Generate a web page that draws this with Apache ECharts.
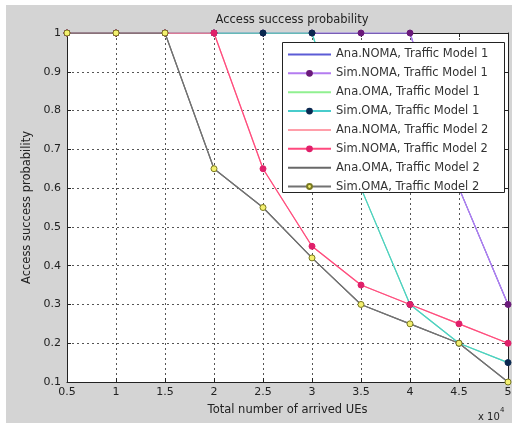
<!DOCTYPE html>
<html><head><meta charset="utf-8">
<script src="https://cdn.jsdelivr.net/npm/echarts@6/dist/echarts.min.js"></script>
<style>html,body{margin:0;padding:0;background:#fff}#c{width:519px;height:425px}</style>
</head><body><div id="c"></div>
<script>
const xValues = [0.5, 1, 1.5, 2, 2.5, 3, 3.5, 4, 4.5, 5];
const seriesNames = ['Ana.NOMA, Traffic Model 1','Sim.NOMA, Traffic Model 1','Ana.OMA, Traffic Model 1','Sim.OMA, Traffic Model 1','Ana.NOMA, Traffic Model 2','Sim.NOMA, Traffic Model 2','Ana.OMA, Traffic Model 2','Sim.OMA, Traffic Model 2'];
const anaNomaTM1 = [1, 1, 1, 1, 1, 1, 1, 1, 0.6, 0.3];
const simNomaTM1 = [1, 1, 1, 1, 1, 1, 1, 1, 0.6, 0.3];
const anaOmaTM1  = [1, 1, 1, 1, 1, 1, 0.6, 0.3, 0.2, 0.15];
const simOmaTM1  = [1, 1, 1, 1, 1, 1, 0.6, 0.3, 0.2, 0.15];
const anaNomaTM2 = [1, 1, 1, 1, 0.65, 0.45, 0.35, 0.3, 0.25, 0.2];
const simNomaTM2 = [1, 1, 1, 1, 0.65, 0.45, 0.35, 0.3, 0.25, 0.2];
const anaOmaTM2  = [1, 1, 1, 0.65, 0.55, 0.42, 0.3, 0.25, 0.2, 0.1];
const simOmaTM2  = [1, 1, 1, 0.65, 0.55, 0.42, 0.3, 0.25, 0.2, 0.1];
const yTicks = [0.1,0.2,0.3,0.4,0.5,0.6,0.7,0.8,0.9,1];

const values = [anaNomaTM1, simNomaTM1, anaOmaTM1, simOmaTM1, anaNomaTM2, simNomaTM2, anaOmaTM2, simOmaTM2];
const styles = [
  {line:'#5c5cd6', sym:'none'},
  {line:'#b47cf0', sym:'circle', fill:'#6a1a7a', edge:'#6a1a7a'},
  {line:'#90f090', sym:'none'},
  {line:'#48cccc', sym:'circle', fill:'#0a2850', edge:'#0a2850'},
  {line:'#ff9eaa', sym:'none'},
  {line:'#ff4a7e', sym:'circle', fill:'#e0206a', edge:'#e0206a'},
  {line:'#686868', sym:'none'},
  {line:'#727272', sym:'circle', fill:'#f4f070', edge:'#7a7a20'}
];
const font = 'DejaVu Sans, Liberation Sans, sans-serif';
const chart = echarts.init(document.getElementById('c'), null, {renderer:'canvas'});
const series = values.map((v,i)=>({
  name: seriesNames[i], type:'line', xAxisIndex:0, yAxisIndex:0,
  data: xValues.map((x,j)=>[x, v[j]]),
  showSymbol: styles[i].sym !== 'none', symbol: 'circle',
  symbolSize: 6,
  lineStyle:{color:styles[i].line, width:1.2},
  itemStyle: styles[i].sym === 'none' ? {color:styles[i].line, opacity:0} : {color:styles[i].fill, borderColor:styles[i].edge, borderWidth:1},
  z: 2 + i*0.01, animation:false, silent:true
}));
const legendData = seriesNames.map((n,i)=> styles[i].sym === 'none'
  ? {name:n, itemStyle:{opacity:0}}
  : {name:n});
const axisCommon = {
  axisLine:{show:true, onZero:false, lineStyle:{color:'#222', width:1}},
  axisTick:{show:true, inside:true, length:4, lineStyle:{color:'#222'}},
};
chart.setOption({
  animation:false,
  backgroundColor:'#ffffff',
  graphic:[
    {type:'rect', shape:{x:6,y:5,width:506,height:418}, style:{fill:'#d4d4d4'}, z:-10, silent:true},
    {type:'rect', shape:{x:67,y:33,width:441,height:349}, style:{fill:'#ffffff'}, z:-9, silent:true},
    {type:'rect', shape:{x:282.5,y:42.5,width:222,height:150}, style:{fill:'#ffffff', stroke:'#222', lineWidth:1}, z:50, silent:true},
    {type:'text', left:478, top:412, style:{text:'x 10', font:'10px '+font, fill:'#222'}, z:60},
    {type:'text', left:500, top:407, style:{text:'4', font:'7px '+font, fill:'#222'}, z:60}
  ],
  title:{text:'Access success probability', left:287, top:9, textAlign:'center',
    textStyle:{fontFamily:font, fontSize:11.5, fontWeight:'normal', color:'#222'}},
  legend:{
    data: legendData, orient:'vertical', left:283, top:42, z:60,
    itemWidth:43, itemHeight:6, itemGap:6.86, padding:[6.5,5,1,4],
    textStyle:{fontFamily:font, fontSize:11.5, color:'#333', lineHeight:12},
    selectedMode:false
  },
  grid:{left:67, right:11, top:33, bottom:43, containLabel:false},
  xAxis:[
    Object.assign({type:'value', min:0.5, max:5, interval:0.5, position:'bottom',
      name:'Total number of arrived UEs', nameLocation:'middle', nameGap:22,
      nameTextStyle:{fontFamily:font, fontSize:11.5, color:'#222'},
      axisLabel:{fontFamily:font, fontSize:11, color:'#222', margin:5, formatter:v=>String(+v.toFixed(1))},
      splitLine:{show:true, lineStyle:{color:'#555', type:[2,3], width:1}}}, axisCommon),
    Object.assign({type:'value', min:0.5, max:5, interval:0.5, position:'top',
      axisLabel:{show:false}, splitLine:{show:false}}, axisCommon)
  ],
  yAxis:[
    Object.assign({type:'value', min:0.1, max:1, interval:0.1, position:'left',
      name:'Access success probability', nameLocation:'middle', nameGap:31, nameRotate:90,
      nameTextStyle:{fontFamily:font, fontSize:11.5, color:'#222'},
      axisLabel:{fontFamily:font, fontSize:11, color:'#222', margin:6, formatter:v=>String(+v.toFixed(1))},
      splitLine:{show:true, lineStyle:{color:'#555', type:[2,3], width:1}}}, axisCommon),
    Object.assign({type:'value', min:0.1, max:1, interval:0.1, position:'right',
      axisLabel:{show:false}, splitLine:{show:false}}, axisCommon)
  ],
  series: series
});
</script></body></html>
